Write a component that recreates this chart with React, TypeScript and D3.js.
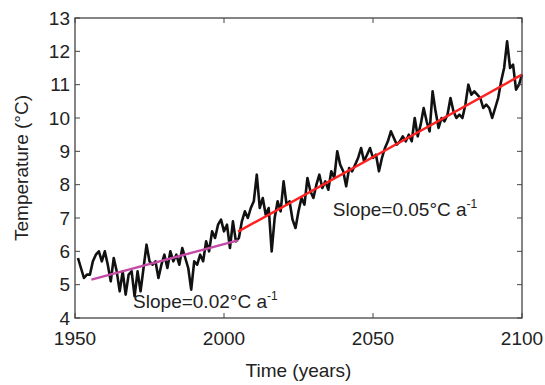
import * as d3 from "d3";

// annual mean temperature, 1951-2100
const startYear = 1951;
const temps = [
  5.8, 5.5, 5.2, 5.3, 5.3, 5.7, 5.9, 6.0, 5.7, 6.0,
  5.6, 5.1, 5.8, 5.4, 4.8, 5.4, 4.7, 5.3, 5.4, 4.65,
  5.4, 4.8, 5.5, 6.2, 5.7, 5.6, 5.7, 5.2, 5.6, 5.9,
  5.5, 6.0, 5.7, 5.9, 5.6, 6.1, 5.8, 5.5, 4.85, 5.7,
  5.6, 5.9, 5.7, 6.3, 6.0, 6.6, 6.4, 6.8, 6.95, 6.6,
  6.8, 6.1, 6.9, 6.3, 6.4, 6.9, 7.2, 7.0, 7.3, 7.5,
  8.3, 7.3, 7.6, 7.1, 7.3, 6.0, 7.0, 7.5, 7.2, 8.1,
  7.4, 7.5, 6.95, 6.7, 7.2, 7.6, 7.4, 8.2, 7.8, 7.6,
  8.0, 8.3, 7.9, 8.1, 7.85, 8.4, 8.2, 9.0, 8.6, 8.4,
  7.95, 8.5, 8.4, 8.6, 8.8, 9.1, 8.7, 8.9, 9.1, 8.8,
  8.9, 8.4, 8.8, 9.1, 9.3, 9.6, 9.4, 9.2, 9.3, 9.45,
  9.3, 9.5, 9.3, 10.0, 9.45, 9.8, 10.3, 9.9, 9.6, 10.8,
  10.2, 9.7, 10.0, 9.9, 10.1, 10.6, 10.2, 10.0, 10.1, 10.0,
  10.4, 11.0, 10.7, 10.8, 10.7, 10.6, 10.3, 10.4, 10.3, 10.0,
  10.3, 10.6, 11.1, 11.5, 12.3, 11.5, 11.6, 10.85, 11.0, 11.3,
];

// linear fits: [year, temp] end points
const trendEarly = [
  [1955.5, 5.15],
  [2004.7, 6.33],
];
const trendLate = [
  [2004.7, 6.59],
  [2100, 11.3],
];

const xTicks = [1950, 2000, 2050, 2100];
const yTicks = [4, 5, 6, 7, 8, 9, 10, 11, 12, 13];

const W = 545;
const H = 385;
const margin = { top: 18, right: 23, bottom: 67, left: 75 };
const FONT = "Liberation Sans, Arial, Helvetica, sans-serif";

export default function App() {
  const x = d3
    .scaleLinear()
    .domain([1950, 2100])
    .range([margin.left, W - margin.right]);
  const y = d3
    .scaleLinear()
    .domain([4, 13])
    .range([H - margin.bottom, margin.top]);

  const series = temps.map((t, i) => [startYear + i, t] as [number, number]);
  const line = d3
    .line<number[]>()
    .x((d) => x(d[0]))
    .y((d) => y(d[1]));

  const [x0, x1] = x.range();
  const [y0, y1] = y.range();
  const tickLen = 5;

  return (
    <svg
      width={W}
      height={H}
      style={{ position: "absolute", left: 0, top: 0, background: "#fff" }}
      fontFamily={FONT}
    >
      {/* data */}
      <path d={line(series) || ""} fill="none" stroke="#111" strokeWidth={2.6} strokeLinejoin="round" />
      <path d={line(trendEarly) || ""} fill="none" stroke="#c44aa6" strokeWidth={2.4} />
      <path d={line(trendLate) || ""} fill="none" stroke="#ff2020" strokeWidth={2.4} />

      {/* frame */}
      <rect x={x0} y={y1} width={x1 - x0} height={y0 - y1} fill="none" stroke="#444" strokeWidth={1.3} />

      {/* x ticks */}
      {xTicks.map((t) => (
        <g key={"x" + t}>
          <line x1={x(t)} x2={x(t)} y1={y0} y2={y0 - tickLen} stroke="#444" />
          <line x1={x(t)} x2={x(t)} y1={y1} y2={y1 + tickLen} stroke="#444" />
          <text x={x(t)} y={y0 + 27} textAnchor="middle" fontSize={19} fill="#222">
            {t}
          </text>
        </g>
      ))}

      {/* y ticks */}
      {yTicks.map((t) => (
        <g key={"y" + t}>
          <line x1={x0} x2={x0 + tickLen} y1={y(t)} y2={y(t)} stroke="#444" />
          <line x1={x1} x2={x1 - tickLen} y1={y(t)} y2={y(t)} stroke="#444" />
          <text x={x0 - 5} y={y(t)} dy="0.35em" textAnchor="end" fontSize={19} fill="#222">
            {t}
          </text>
        </g>
      ))}

      {/* axis titles */}
      <text x={(x0 + x1) / 2} y={377} textAnchor="middle" fontSize={19} fill="#222">
        Time (years)
      </text>
      <text
        transform={`translate(28,${(y0 + y1) / 2}) rotate(-90)`}
        textAnchor="middle"
        fontSize={19}
        fill="#222"
      >
        Temperature (°C)
      </text>

      {/* slope notes */}
      <text x={x(2036.5)} y={y(7.05)} fontSize={19} fill="#222">
        Slope=0.05°C a
        <tspan dy={-8} fontSize={12}>-1</tspan>
      </text>
      <text x={x(1969.5)} y={y(4.3)} fontSize={19} fill="#222">
        Slope=0.02°C a
        <tspan dy={-8} fontSize={12}>-1</tspan>
      </text>
    </svg>
  );
}
